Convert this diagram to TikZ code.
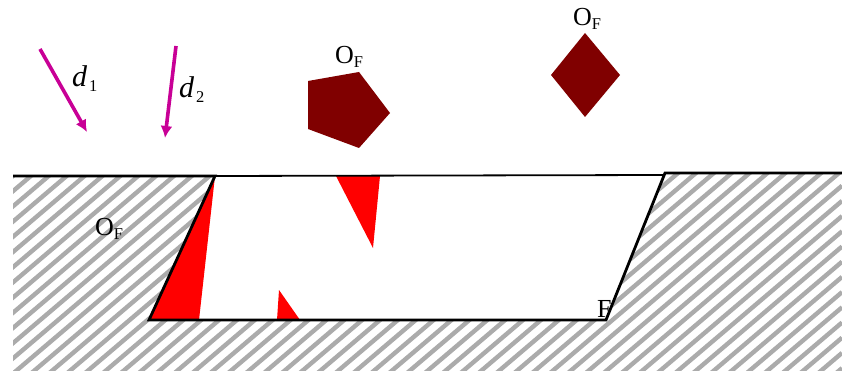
\documentclass[tikz,border=0pt]{standalone}
\usepackage{fontspec}
\setmainfont{Liberation Serif}
\usetikzlibrary{arrows.meta}
\definecolor{dirc}{RGB}{200,0,150}
\definecolor{bodyc}{RGB}{128,0,0}
\tikzset{
  wall/.style={draw=black,line width=2.8pt,line join=miter},
  thinwall/.style={draw=black,line width=1.8pt},
  hatchline/.style={draw=black!33,line width=4.4pt},
  flaw/.style={fill=red,draw=none},
  dirarrow/.style={draw=dirc,line width=3.6pt,-{Latex[length=12pt,width=12pt]}},
  lab/.style={inner sep=0pt,text=black},
}
\newcommand{\bigtxt}{\fontsize{26}{28}\selectfont}
\newcommand{\subtxt}{\fontsize{16.5}{18}\selectfont}
\newcommand{\OF}{\bigtxt O\raisebox{-4pt}{\subtxt F}}
\begin{document}
\begin{tikzpicture}[x=1pt,y=-1pt]
\useasboundingbox (0,0) rectangle (842,371);
\begin{scope}
\clip (13,176) -- (215,176) -- (149,320) -- (606,320) -- (665,173) -- (842,173) -- (842,371) -- (13,371) -- cycle;
\foreach \k in {-11,...,50} {
  \draw[hatchline] (0,{339+15.2*\k}) -- (842,{339+15.2*\k-715.7});
}
\end{scope}
\fill[flaw] (215,176) -- (149,320) -- (199,320) -- cycle;
\fill[flaw] (336,176) -- (380,176) -- (373,248) -- cycle;
\fill[flaw] (279,290) -- (277,320) -- (300,320) -- cycle;
\fill[bodyc] (308,81) -- (359,72) -- (390,113) -- (359,148) -- (308,129) -- cycle;
\fill[bodyc] (585,33) -- (620,75) -- (585,117) -- (551,75) -- cycle;
\coordinate (tl) at (13,176);
\coordinate (tm) at (215,176);
\coordinate (bl) at (149,320);
\coordinate (br) at (606,320);
\coordinate (tr) at (665,173);
\coordinate (te) at (842,173);
\coordinate (tn) at (663,175);
\draw[thinwall] (tm) -- (tn);
\draw[wall] (tl) -- (tm) -- (bl) -- (br) -- (tr) -- (te);
\coordinate (d1a) at (40,49);
\coordinate (d1b) at (87,132);
\coordinate (d2a) at (176,46);
\coordinate (d2b) at (165,138);
\draw[dirarrow] (d1a) -- (d1b);
\draw[dirarrow] (d2a) -- (d2b);
\node[lab,anchor=base west] (l1) at (72,87) {\fontsize{30}{32}\selectfont\itshape d\kern2pt\raisebox{-5pt}{\subtxt\upshape 1}};
\node[lab,anchor=base west] (l2) at (179,98) {\fontsize{30}{32}\selectfont\itshape d\kern2pt\raisebox{-5pt}{\subtxt\upshape 2}};
\node[lab,anchor=base west] (o1) at (335,64) {\OF};
\node[lab,anchor=base west] (o2) at (573,26) {\OF};
\node[lab,anchor=base west] (o3) at (95,235) {\OF};
\node[lab,anchor=base west] (f) at (597,317) {\bigtxt F};
\end{tikzpicture}
\end{document}
